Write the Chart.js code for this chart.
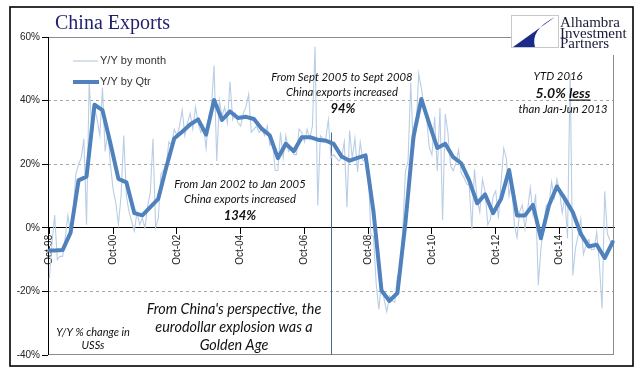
<!DOCTYPE html>
<html><head><meta charset="utf-8">
<script src="https://cdn.jsdelivr.net/npm/chart.js@4"></script>
<style>html,body{margin:0;padding:0;background:#fff;}canvas{display:block;}</style>
</head><body>
<canvas id="c" width="641" height="379"></canvas>
<script>
// ---- categories: months Oct-98 .. Jun-16 ----
const monthNames = ['Jan','Feb','Mar','Apr','May','Jun','Jul','Aug','Sep','Oct','Nov','Dec'];
const firstMonth = {year: 1998, month: 9};   // Oct 1998 (0-based month)
const lastMonth  = {year: 2016, month: 5};   // Jun 2016
const monthLabels = [];
for (let y = firstMonth.year, m = firstMonth.month; y < lastMonth.year || (y === lastMonth.year && m <= lastMonth.month); ) {
  monthLabels.push(monthNames[m] + '-' + String(y % 100).padStart(2, '0'));
  m++; if (m > 11) { m = 0; y++; }
}

// ---- tick labels ----
const xTickLabels = ['Oct-98','Oct-00','Oct-02','Oct-04','Oct-06','Oct-08','Oct-10','Oct-12','Oct-14'];
const yMin = -40, yMax = 60, yStep = 20;

// ---- series: Y/Y by month (%) ----
const monthlyYoY = [
  -16, -5, 4,                                                   // 1998 Oct-Dec
  -10, -9, -9, -3, 4, -2, 6, 17, 20, 22, 28, 1,                 // 1999
  46, 30, 38, 34, 29, 44, 24, 30, 20, 12, 8, 1,                 // 2000
  10, 29, 10, 5, 2, -1, 5, 1, 3, 0, 7, 11,                      // 2001
  28, 0, 3, 17, 18, 20, 27, 26, 31, 29, 32, 37,                 // 2002
  29, 33, 36, 31, 38, 33, 30, 32, 25, 35, 38, 51,               // 2003
  21, 40, 35, 38, 33, 46, 34, 36, 33, 32, 36, 38,               // 2004
  42, 30, 31, 32, 30, 31, 29, 32, 26, 27, 18, 18,               // 2005
  30, 22, 29, 24, 25, 23, 23, 31, 30, 27, 31, 28,               // 2006
  32, 57, 7, 29, 28, 28, 34, 22, 23, 22, 21, 22,                // 2007
  27, 6.5, 30.6, 21.8, 28.1, 17.6, 26.9, 21.1, 21.5, 19.2, -2.2, -2.8,     // 2008
  -17.5, -25.7, -17.1, -22.6, -26.4, -21.4, -23, -23.4, -15.2, -13.8, -1.2, 17.7, // 2009
  21, 45.7, 24.3, 30.5, 48.5, 43.9, 38.1, 34.4, 25.1, 22.9, 34.9, 17.9,    // 2010
  37.7, 2.4, 35.8, 29.9, 19.4, 17.9, 20.4, 24.5, 17.1, 15.9, 13.8, 13.4,   // 2011
  -0.5, 18.4, 8.9, 4.9, 15.3, 11.3, 1, 2.7, 9.9, 11.6, 2.9, 14.1,          // 2012
  25, 21.8, 10, 14.7, 1, -3.1, 5.1, 7.2, -0.3, 5.6, 12.7, 4.3,             // 2013
  10.6, -18.1, -6.6, 0.9, 7, 7.2, 14.5, 9.4, 15.3, 11.6, 4.7, 9.7,         // 2014
  -3.3, 48.3, -15, -6.4, -2.5, 2.8, -8.3, -5.5, -3.7, -6.9, -6.8, -1.4,    // 2015
  -11.2, -25.4, 11.5, -1.8, -4.1, -4.8                                     // 2016 Jan-Jun
];

// ---- series: Y/Y by quarter (%) ----
const qtrLabels = [
  'Oct-98','Dec-98',
  'Mar-99','Jun-99','Sep-99','Dec-99','Mar-00','Jun-00','Sep-00','Dec-00',
  'Mar-01','Jun-01','Sep-01','Dec-01','Mar-02','Jun-02','Sep-02','Dec-02',
  'Mar-03','Jun-03','Sep-03','Dec-03','Mar-04','Jun-04','Sep-04','Dec-04',
  'Mar-05','Jun-05','Sep-05','Dec-05','Mar-06','Jun-06','Sep-06','Dec-06',
  'Mar-07','Jun-07','Sep-07','Dec-07','Mar-08','Jun-08','Sep-08','Dec-08',
  'Mar-09','Jun-09','Sep-09','Dec-09','Mar-10','Jun-10','Sep-10','Dec-10',
  'Mar-11','Jun-11','Sep-11','Dec-11','Mar-12','Jun-12','Sep-12','Dec-12',
  'Mar-13','Jun-13','Sep-13','Dec-13','Mar-14','Jun-14','Sep-14','Dec-14',
  'Mar-15','Jun-15','Sep-15','Dec-15','Mar-16','Jun-16'
];
const qtrYoY = [
  -7.1, -7.1,
  -7.0, -1.5, 14.9, 16.1, 38.7, 37.0, 26.5, 15.4,
  14.3, 4.6, 3.9, 6.5, 9.1, 19.0, 28.1, 30.2,
  32.5, 34.1, 29.3, 40.2, 33.9, 36.6, 34.5, 34.9,
  34.2, 31.1, 29.0, 21.9, 26.4, 24.1, 28.5, 28.5,
  27.7, 27.4, 26.4, 22.4, 21.1, 22.0, 22.8, 5.0,
  -19.7, -23.0, -20.5, 1.5, 28.5, 40.5, 32.7, 25.1,
  26.4, 22.2, 20.3, 14.9, 7.7, 10.5, 4.6, 9.1,
  18.2, 3.9, 3.9, 7.2, -3.3, 7.0, 13.0, 9.1,
  4.9, -1.9, -5.9, -5.3, -9.5, -4.5
];

// ---- vertical marker ----
const markerMonth = 'Aug-07';
const markerTopValue = 30;

const C_MONTH = '#b9cde5', C_QTR = '#4f81bd';

const decorPlugin = {
  id: 'decor',
  beforeDatasetsDraw(chart) {
    const {ctx, chartArea: a, scales} = chart;
    ctx.save();
    ctx.lineWidth = 1;
    ctx.strokeStyle = '#8c8c8c';
    ctx.beginPath();
    ctx.moveTo(a.left, a.top + 0.5); ctx.lineTo(511, a.top + 0.5);
    ctx.moveTo(a.right - 0.5, 55); ctx.lineTo(a.right - 0.5, a.bottom);
    ctx.moveTo(a.left, a.bottom - 0.5); ctx.lineTo(a.right, a.bottom - 0.5);
    ctx.stroke();
    ctx.strokeStyle = '#000';
    ctx.beginPath();
    ctx.moveTo(a.left + 0.5, a.top); ctx.lineTo(a.left + 0.5, a.bottom);
    ctx.stroke();
    const mx = Math.round(scales.x.getPixelForValue(monthLabels.indexOf(markerMonth))) + 0.5;
    ctx.strokeStyle = '#4a6a92';
    ctx.beginPath();
    ctx.moveTo(mx, scales.y.getPixelForValue(markerTopValue));
    ctx.lineTo(mx, a.bottom);
    ctx.stroke();
    ctx.restore();
  },
  afterDraw(chart) {
    const {ctx} = chart;
    ctx.save();
    ctx.strokeStyle = '#000'; ctx.lineWidth = 1.6;
    ctx.strokeRect(10, 7, 623, 359);
    ctx.fillStyle = '#1f1f6e';
    ctx.font = '20px "Liberation Serif"';
    ctx.textAlign = 'left'; ctx.textBaseline = 'alphabetic';
    ctx.fillText('China Exports', 55, 29);
    ctx.lineCap = 'butt';
    ctx.strokeStyle = C_MONTH; ctx.lineWidth = 1.2;
    ctx.beginPath(); ctx.moveTo(73, 61); ctx.lineTo(98, 61); ctx.stroke();
    ctx.strokeStyle = C_QTR; ctx.lineWidth = 4;
    ctx.beginPath(); ctx.moveTo(73, 82); ctx.lineTo(99, 82); ctx.stroke();
    ctx.fillStyle = '#333';
    ctx.font = '11px "Liberation Sans"';
    ctx.textBaseline = 'middle';
    ctx.fillText('Y/Y by month', 100, 61);
    ctx.fillText('Y/Y by Qtr', 100, 82);
    const it = (sz, bold) => (bold ? 'italic bold ' : 'italic ') + sz + 'px Lato';
    const txt = (s, x, y, font) => { ctx.font = font; ctx.textAlign = 'center'; ctx.fillText(s, x, y); };
    ctx.fillStyle = '#111';
    txt('From Sept 2005 to Sept 2008', 342, 77, it(11.3));
    txt('China exports increased', 342, 92, it(11.3));
    txt('94%', 343, 109, it(13, true));
    txt('From Jan 2002 to Jan 2005', 240, 184, it(11.3));
    txt('China exports increased', 240, 199, it(11.3));
    txt('134%', 240, 216, it(13, true));
    txt('YTD 2016', 558, 76, it(11.3));
    txt('than Jan-Jun 2013', 563, 109, it(11.3));
    ctx.font = it(14, true);
    const p1 = '5.0% ', p2 = 'less';
    const w1 = ctx.measureText(p1).width, w2 = ctx.measureText(p2).width;
    const sx = 563 - (w1 + w2) / 2;
    ctx.textAlign = 'left';
    ctx.fillText(p1, sx, 93); ctx.fillText(p2, sx + w1, 93);
    ctx.fillRect(sx + w1, 99.5, w2, 1.2);
    txt("From China's perspective, the", 234, 309, it(14.4));
    txt('eurodollar explosion was a', 234, 327, it(14.4));
    txt('Golden Age', 234, 345, it(14.4));
    txt('Y/Y % change in', 93, 332, it(11));
    txt('USSs', 93, 345, it(11));
    // logo
    ctx.fillStyle = '#fff';
    ctx.fillRect(511, 15, 48, 33);
    ctx.strokeStyle = '#c8c8c8'; ctx.lineWidth = 1;
    ctx.strokeRect(511.5, 15.5, 47, 32);
    ctx.fillStyle = '#1b2b8a';
    ctx.beginPath();
    ctx.moveTo(555, 17);
    ctx.lineTo(513, 47);
    ctx.lineTo(535, 47);
    ctx.quadraticCurveTo(530, 30, 555, 17);
    ctx.closePath();
    ctx.fill();
    ctx.fillStyle = '#1a1a3a';
    ctx.font = '15px "Liberation Serif"';
    ctx.textAlign = 'left'; ctx.textBaseline = 'alphabetic';
    ctx.fillText('Alhambra', 560, 27);
    ctx.fillText('Investment', 560, 37.5);
    ctx.fillText('Partners', 560, 48);
    ctx.restore();
  }
};

new Chart(document.getElementById('c'), {
  type: 'line',
  data: {
    labels: monthLabels,
    datasets: [
      {
        label: 'Y/Y by Qtr',
        data: qtrLabels.map((l, i) => ({x: l, y: qtrYoY[i]})),
        borderColor: C_QTR, borderWidth: 4, pointRadius: 0,
        borderJoinStyle: 'round', borderCapStyle: 'round',
        tension: 0, order: 0
      },
      {
        label: 'Y/Y by month',
        data: monthlyYoY,
        borderColor: C_MONTH, borderWidth: 1.1, pointRadius: 0,
        tension: 0, order: 1
      }
    ]
  },
  options: {
    responsive: false, animation: false, events: [],
    layout: {padding: {left: 0, right: 27, top: 37, bottom: 24}},
    plugins: {legend: {display: false}, tooltip: {enabled: false}, title: {display: false}},
    scales: {
      x: {
        type: 'category',
        position: {y: 0},
        offset: true,
        afterFit(s) { s.height = 0; },
        grid: {
          display: true, drawOnChartArea: false, drawTicks: true, offset: false,
          tickLength: 6,
          tickColor: (c) => xTickLabels.includes(monthLabels[c.index]) ? '#000' : 'rgba(0,0,0,0)'
        },
        border: {display: true, color: '#000', width: 1},
        ticks: {
          autoSkip: false, maxRotation: 90, minRotation: 90, padding: 1,
          color: '#222', font: {size: 10, family: 'Liberation Sans'},
          callback: (v, i) => xTickLabels.includes(monthLabels[i]) ? monthLabels[i] : ''
        }
      },
      y: {
        min: yMin, max: yMax,
        afterFit(s) { s.width = 48; },
        grid: {
          drawTicks: true, tickLength: 6,
          color: (c) => (c.tick && [40, 20, -20].includes(c.tick.value)) ? '#a8a8a8' : 'rgba(0,0,0,0)',
          tickColor: '#000', tickBorderDash: []
        },
        border: {display: false, dash: [3, 3]},
        ticks: {
          stepSize: yStep, padding: 2, color: '#222',
          font: {size: 10, family: 'Liberation Sans'},
          callback: (v) => v + '%'
        }
      }
    }
  },
  plugins: [decorPlugin]
});
</script>
</body></html>
